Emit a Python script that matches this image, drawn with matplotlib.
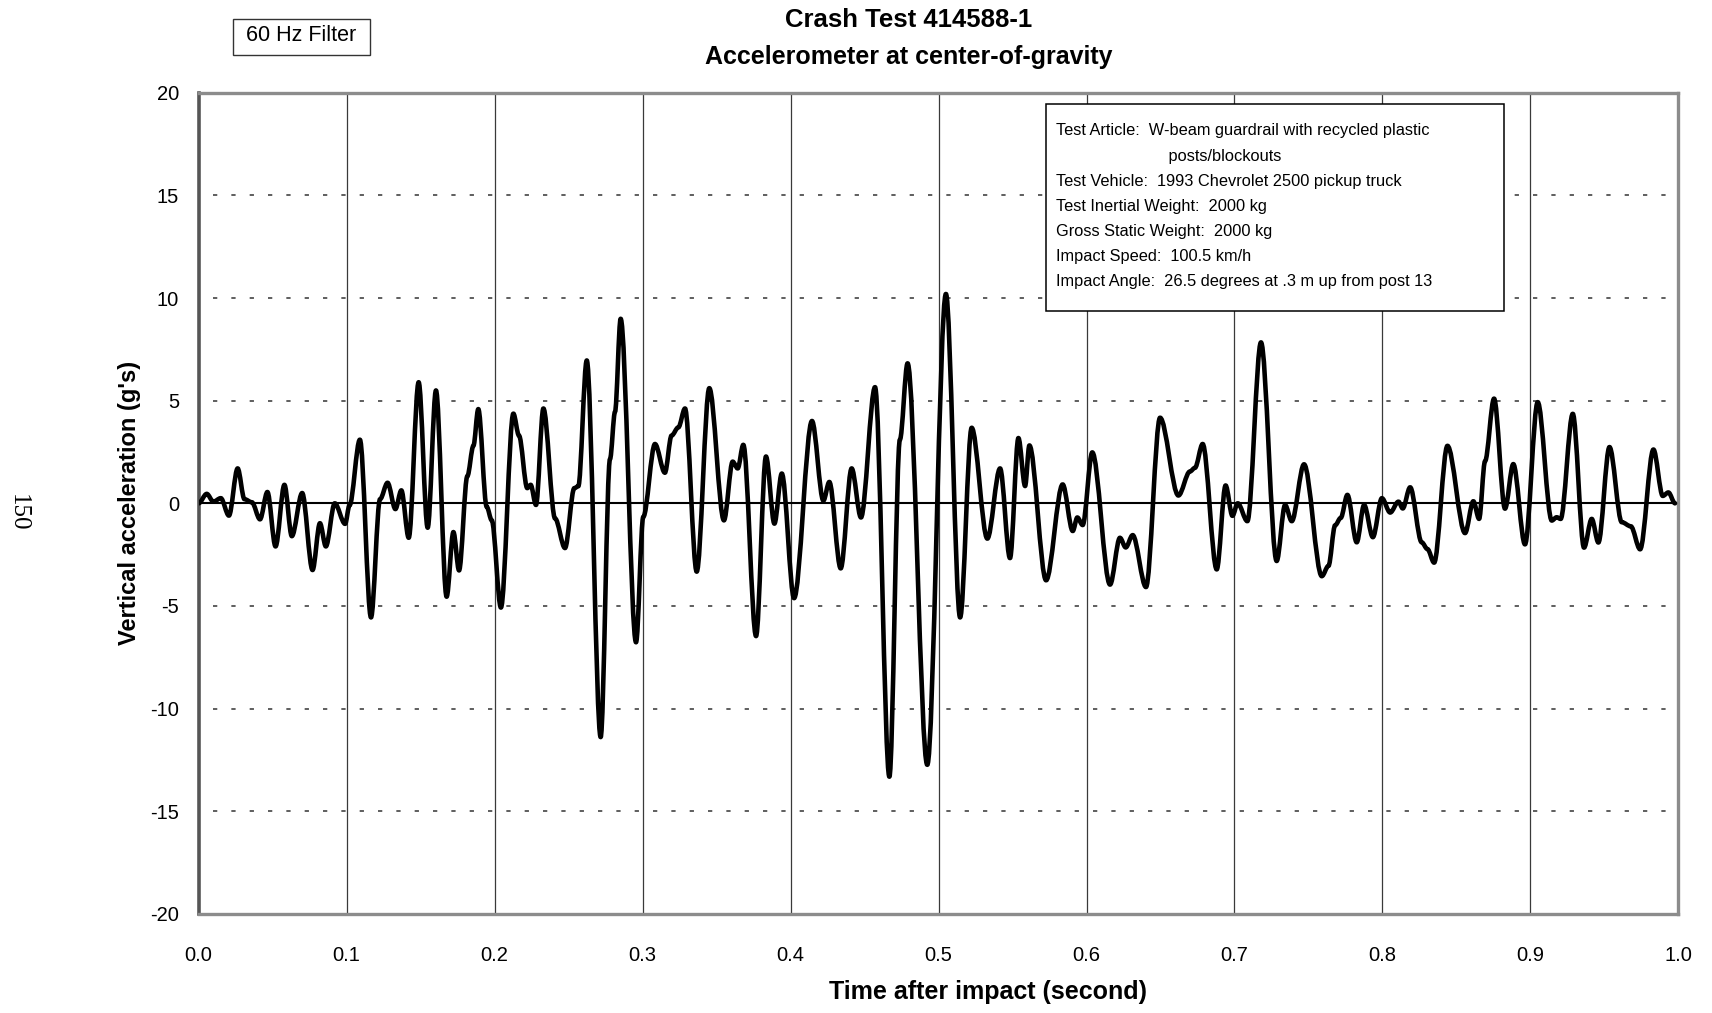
import matplotlib
matplotlib.use("Agg")
import matplotlib.pyplot as plt
from matplotlib.path import Path
from matplotlib.patches import PathPatch, Rectangle

# Vertical acceleration at the vehicle c.g., 60 Hz filtered (time in s, accel in g)
time_s = [
    0.000, 0.0055, 0.010, 0.015, 0.0205, 0.0264, 0.031, 0.036, 0.0415, 0.0465,
    0.052, 0.058, 0.063, 0.070, 0.077, 0.082, 0.086, 0.092, 0.099, 0.102,
    0.109, 0.1165, 0.1226, 0.1277, 0.133, 0.137, 0.142, 0.1487, 0.1548, 0.1604,
    0.1676, 0.1722, 0.1760, 0.1816, 0.1857, 0.1890, 0.1947, 0.1981, 0.2043, 0.2127,
    0.2165, 0.2221, 0.2244, 0.2280, 0.2330, 0.2409, 0.2476, 0.2539, 0.2566, 0.2623,
    0.2717, 0.2780, 0.2814, 0.2852, 0.2956, 0.3005, 0.3084, 0.3151, 0.3196, 0.3242,
    0.3287, 0.3366, 0.3451, 0.3550, 0.3609, 0.3643, 0.3681, 0.3767, 0.3834, 0.3891,
    0.3941, 0.4024, 0.4145, 0.4222, 0.4262, 0.4339, 0.4413, 0.4476, 0.4571, 0.4668,
    0.4739, 0.4791, 0.4924, 0.5050, 0.5146, 0.5224, 0.5330, 0.5416, 0.5483, 0.5540,
    0.5585, 0.5614, 0.5727, 0.5839, 0.5907, 0.5938, 0.5974, 0.6039, 0.6159, 0.6226,
    0.6265, 0.6312, 0.6402, 0.6497, 0.6621, 0.6699, 0.6733, 0.6785, 0.6880, 0.6940,
    0.6986, 0.7022, 0.7087, 0.7179, 0.7285, 0.7342, 0.7387, 0.7470, 0.7590, 0.7635,
    0.7680, 0.7718, 0.7763, 0.7826, 0.7876, 0.7935, 0.7996, 0.8052, 0.8108, 0.8137,
    0.8187, 0.8265, 0.8304, 0.8349, 0.8439, 0.8558, 0.8614, 0.8653, 0.8693, 0.8754,
    0.8828, 0.8884, 0.8963, 0.9049, 0.9144, 0.9177, 0.9204, 0.9286, 0.9362, 0.9414,
    0.9459, 0.9534, 0.9617, 0.9678, 0.9741, 0.9831, 0.9894, 0.9932, 0.9977,
]
accel_g = [
    0.00, 0.46, 0.08, 0.25, -0.60, 1.70, 0.20, 0.05, -0.78, 0.55,
    -2.10, 0.90, -1.60, 0.50, -3.25, -0.97, -2.10, 0.00, -1.00, -0.10,
    3.10, -5.56, 0.20, 1.00, -0.28, 0.63, -1.68, 5.90, -1.19, 5.50,
    -4.55, -1.40, -3.27, 1.32, 2.80, 4.59, -0.17, -0.83, -5.08, 4.37,
    3.30, 0.74, 0.90, -0.08, 4.62, -0.74, -2.18, 0.74, 0.83, 6.96,
    -11.39, 2.15, 4.46, 8.99, -6.77, -0.66, 2.89, 1.49, 3.30, 3.70,
    4.62, -3.33, 5.61, -0.83, 2.03, 1.70, 2.85, -6.47, 2.28, -0.99,
    1.45, -4.62, 4.01, 0.13, 1.04, -3.17, 1.70, -0.69, 5.66, -13.32,
    3.10, 6.82, -12.74, 10.20, -5.56, 3.68, -1.72, 1.70, -2.67, 3.18,
    0.84, 2.82, -3.75, 0.92, -1.35, -0.69, -1.06, 2.48, -3.96, -1.68,
    -2.15, -1.55, -4.08, 4.17, 0.38, 1.55, 1.73, 2.89, -3.22, 0.87,
    -0.61, 0.00, -0.87, 7.84, -2.81, -0.08, -0.87, 1.90, -3.55, -3.05,
    -1.07, -0.71, 0.41, -1.90, -0.08, -1.65, 0.25, -0.45, 0.08, -0.25,
    0.78, -1.90, -2.23, -2.89, 2.80, -1.45, 0.10, -0.76, 2.05, 5.10,
    -0.26, 1.91, -2.00, 4.93, -0.84, -0.68, -0.76, 4.36, -2.16, -0.76,
    -1.91, 2.74, -0.92, -1.12, -2.24, 2.62, 0.36, 0.53, 0.00,
]

x_ticks = [0.0, 0.1, 0.2, 0.3, 0.4, 0.5, 0.6, 0.7, 0.8, 0.9, 1.0]
x_tick_labels = ["0.0", "0.1", "0.2", "0.3", "0.4", "0.5", "0.6", "0.7", "0.8", "0.9", "1.0"]
y_ticks = [-20, -15, -10, -5, 0, 5, 10, 15, 20]
y_tick_labels = ["-20", "-15", "-10", "-5", "0", "5", "10", "15", "20"]

info_lines = [
    "Test Article:  W-beam guardrail with recycled plastic",
    "                         posts/blockouts",
    "Test Vehicle:  1993 Chevrolet 2500 pickup truck",
    "Test Inertial Weight:  2000 kg",
    "Gross Static Weight:  2000 kg",
    "Impact Speed:  100.5 km/h",
    "Impact Angle:  26.5 degrees at .3 m up from post 13",
]

plt.rcParams["font.family"] = ["Liberation Sans", "DejaVu Sans"]


def smooth_path(xs, ys):
    """Cubic Bezier through every sample, flat tangents at each sample."""
    verts = [(xs[0], ys[0])]
    codes = [Path.MOVETO]
    for i in range(len(xs) - 1):
        dx = (xs[i + 1] - xs[i]) / 3.0
        verts += [(xs[i] + dx, ys[i]), (xs[i + 1] - dx, ys[i + 1]),
                  (xs[i + 1], ys[i + 1])]
        codes += [Path.CURVE4] * 3
    return Path(verts, codes)


fig = plt.figure(figsize=(17.12, 10.13), dpi=100)
ax = fig.add_axes([0.116, 0.0979, 0.8644, 0.8105])

# grid: solid verticals, sparse dashed horizontals, solid zero line
for xv in x_ticks[1:-1]:
    ax.axvline(xv, color="#3a3a3a", lw=0.9, zorder=1)
for yv in y_ticks[1:-1]:
    if yv == 0:
        continue
    ax.axhline(yv, xmin=0.01, color="#333333", lw=1.1,
               dashes=(2.8, 9.2), zorder=1)
ax.axhline(0, color="black", lw=1.5, zorder=2)

ax.add_patch(PathPatch(smooth_path(time_s, accel_g), fill=False,
                       ec="black", lw=3.3, joinstyle="round",
                       capstyle="round", zorder=3))

ax.set_xlim(0, 1.0)
ax.set_ylim(-20, 20)
ax.set_xticks(x_ticks)
ax.set_xticklabels(x_tick_labels)
ax.set_yticks(y_ticks)
ax.set_yticklabels(y_tick_labels)
ax.tick_params(axis="both", length=0, labelsize=14.5, colors="black")
ax.tick_params(axis="x", pad=23)
ax.tick_params(axis="y", pad=14)

for side in ["top", "right", "bottom"]:
    ax.spines[side].set_color("#8c8c8c")
    ax.spines[side].set_linewidth(2.4)
ax.spines["left"].set_color("#555555")
ax.spines["left"].set_linewidth(2.6)

ax.set_ylabel("Vertical acceleration (g's)", fontsize=17, fontweight="bold",
              labelpad=7)
fig.text(0.577, 0.021, "Time after impact (second)", fontsize=18,
         fontweight="bold", ha="center", va="center")

fig.text(0.531, 0.980, "Crash Test 414588-1", fontsize=18.5,
         fontweight="bold", ha="center", va="center")
fig.text(0.531, 0.9435, "Accelerometer at center-of-gravity", fontsize=18,
         fontweight="bold", ha="center", va="center")

# filter note with its frame
fig.patches.append(Rectangle((0.1361, 0.9461), 0.0800, 0.0356,
                             transform=fig.transFigure, fc="white",
                             ec="#333333", lw=1.0))
fig.text(0.1758, 0.9645, "60 Hz Filter", fontsize=15.5, ha="center",
         va="center")

fig.text(0.0105, 0.494, "150", fontsize=18, family="Liberation Serif",
         rotation=-90, ha="center", va="center")

# test information box
ax.add_patch(Rectangle((0.5729, 0.734), 0.3093, 0.2527,
                       transform=ax.transAxes, fc="white", ec="black",
                       lw=1.1, zorder=5))
line_top, line_step = 0.9535, 0.0306
for i, line in enumerate(info_lines):
    ax.text(0.5795, line_top - i * line_step, line, transform=ax.transAxes,
            fontsize=11.8, ha="left", va="center", zorder=6)

fig.savefig("out.png", dpi=100, facecolor="white")
